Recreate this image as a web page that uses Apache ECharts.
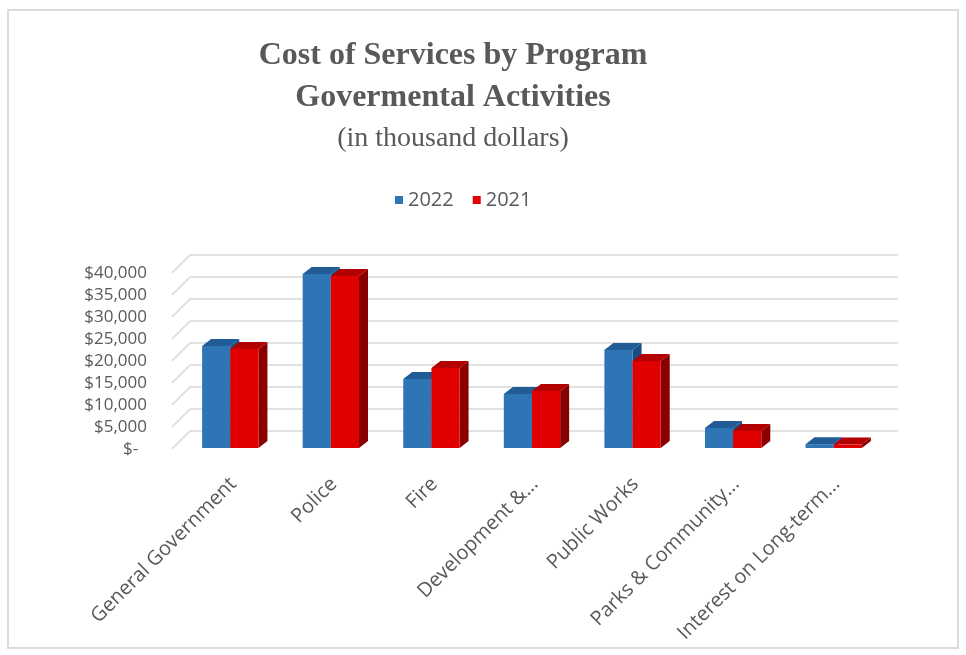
<!DOCTYPE html>
<html>
<head>
<meta charset="utf-8">
<script src="https://cdn.jsdelivr.net/npm/echarts@6/dist/echarts.min.js"></script>
<style>html,body{margin:0;padding:0;background:#fff;}#c{width:966px;height:655px;}</style>
</head>
<body>
<div id="c"></div>
<script>
const categories = ['General Government','Police','Fire','Development &...','Public Works','Parks & Community...','Interest on Long-term...'];
const values2022 = [23400, 39800, 15900, 12500, 22500, 4800, 1100];
const values2021 = [22700, 39300, 18400, 13200, 20000, 4100, 1000];
const yTicks = [0, 5000, 10000, 15000, 20000, 25000, 30000, 35000, 40000];
const seriesNames = ['2022', '2021'];

const chart = echarts.init(document.getElementById('c'), null, {renderer: 'canvas'});

const DX = 9, DY = -7;
const palettes = [
  {front: '#2E75B6', top: '#215C96', side: '#1B4E80'},
  {front: '#E00000', top: '#B30000', side: '#8A0000'}
];

function barRender(idx) {
  return function (params, api) {
    const cat = api.value(0), val = api.value(1);
    const band = api.size([1, 0])[0];
    const c = api.coord([cat, 0]);
    const t = api.coord([cat, val]);
    const w = band * 0.28;
    const x0 = c[0] - band * 0.31 + idx * w;
    const yb = c[1] - 1, yt = t[1];
    const p = palettes[idx];
    return {
      type: 'group',
      children: [
        {type: 'polygon', shape: {points: [[x0 + w, yt], [x0 + w + DX, yt + DY], [x0 + w + DX, yb + DY], [x0 + w, yb]]}, style: {fill: p.side}},
        {type: 'polygon', shape: {points: [[x0, yt], [x0 + DX, yt + DY], [x0 + w + DX, yt + DY], [x0 + w, yt]]}, style: {fill: p.top}},
        {type: 'rect', shape: {x: x0, y: yt, width: w, height: yb - yt}, style: {fill: p.front}}
      ]
    };
  };
}

function wallRender(params, api) {
  const v = api.value(1);
  const y = api.coord([0, v])[1];
  const cs = params.coordSys;
  const xl = cs.x - 11, xb = cs.x + 7, xr = cs.x + cs.width + 11;
  return {
    type: 'polyline',
    shape: {points: [[xl, y], [xb, y - 18], [xr, y - 18]]},
    style: {stroke: '#d9d9d9', lineWidth: 1.6, fill: null}
  };
}

const option = {
  backgroundColor: '#ffffff',
  animation: false,
  graphic: [
    {type: 'rect', shape: {x: 8, y: 10, width: 950, height: 638}, style: {fill: null, stroke: '#dcdcdc', lineWidth: 2}},
    {type: 'text', x: 453, y: 56, style: {text: 'Cost of Services by Program', font: 'bold 32px "Liberation Serif"', fill: '#595959', textAlign: 'center', textVerticalAlign: 'middle'}},
    {type: 'text', x: 453, y: 98, style: {text: 'Govermental Activities', font: 'bold 32px "Liberation Serif"', fill: '#595959', textAlign: 'center', textVerticalAlign: 'middle'}},
    {type: 'text', x: 453, y: 139, style: {text: '(in thousand dollars)', font: '28px "Liberation Serif"', fill: '#595959', textAlign: 'center', textVerticalAlign: 'middle'}}
  ],
  legend: {
    data: [
      {name: seriesNames[0], icon: 'rect', itemStyle: {color: palettes[0].front}},
      {name: seriesNames[1], icon: 'rect', itemStyle: {color: palettes[1].front}}
    ],
    left: 390, top: 185,
    itemWidth: 8, itemHeight: 8, itemGap: 19,
    textStyle: {fontFamily: 'Open Sans', fontSize: 20, color: '#595959'}
  },
  grid: {left: 183, right: 79, top: 273, bottom: 206},
  xAxis: {
    type: 'category',
    data: categories,
    axisLine: {show: false},
    axisTick: {show: false},
    axisLabel: {rotate: 45, margin: 32, interval: 0, fontFamily: 'Open Sans', fontSize: 20, color: '#595959'}
  },
  yAxis: {
    type: 'value',
    min: 0, max: 40000, interval: 5000,
    axisLine: {show: false},
    axisTick: {show: false},
    splitLine: {show: false},
    axisLabel: {
      margin: 36, fontFamily: 'Open Sans', fontSize: 17, color: '#595959',
      formatter: function (v) { return v === 0 ? '$-  ' : '$' + v.toLocaleString('en-US'); }
    }
  },
  series: [
    {
      name: 'walls', type: 'custom', renderItem: wallRender, silent: true, clip: false,
      data: yTicks.map(v => [0, v]), encode: {x: 0, y: 1}, z: 1
    },
    {
      name: seriesNames[0], type: 'custom', renderItem: barRender(0), clip: false,
      itemStyle: {color: palettes[0].front},
      data: values2022.map((v, i) => [i, v]), encode: {x: 0, y: 1}, z: 2
    },
    {
      name: seriesNames[1], type: 'custom', renderItem: barRender(1), clip: false,
      itemStyle: {color: palettes[1].front},
      data: values2021.map((v, i) => [i, v]), encode: {x: 0, y: 1}, z: 3
    }
  ]
};
chart.setOption(option);
</script>
</body>
</html>
